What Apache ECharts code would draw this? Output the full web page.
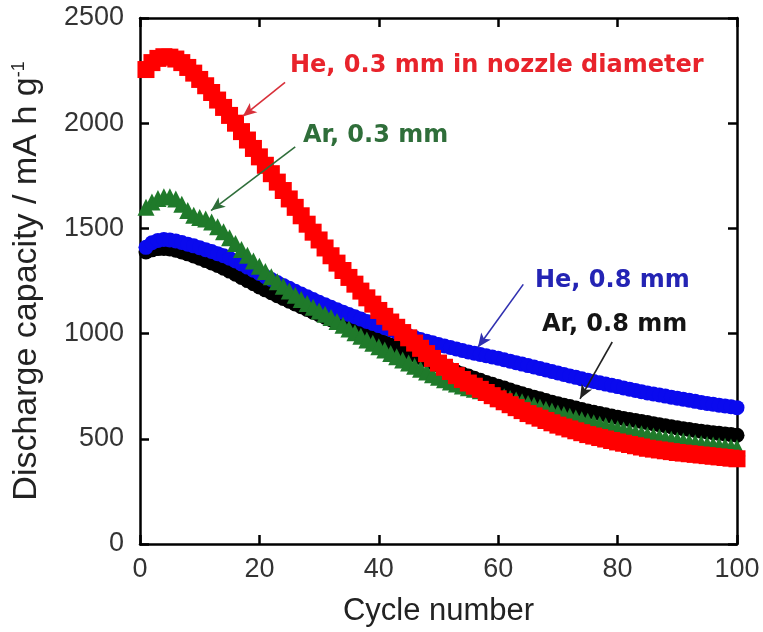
<!DOCTYPE html>
<html>
<head>
<meta charset="utf-8">
<title>Discharge capacity vs cycle number</title>
<script src="https://cdn.jsdelivr.net/npm/echarts@6/dist/echarts.min.js"></script>
</head>
<body style="margin:0;padding:0;background:#fff;">
<div id="main" style="width:763px;height:632px;"></div>
<script>
// discharge capacity (mA h g-1) for cycles 1..100
var heSmall = [2255,2288,2308,2316,2314,2305,2288,2265,2238,2208,
  2178,2146,2110,2075,2037,2000,1960,1920,1880,1840,
  1800,1760,1720,1680,1640,1600,1560,1520,1482,1445,
  1407,1370,1335,1300,1267,1235,1202,1170,1140,1110,
  1082,1055,1030,1005,980,955,930,905,882,860,
  840,820,800,782,765,750,735,720,705,690,
  676,662,648,634,620,609,598,587,576,565,
  556,547,538,529,520,513,506,499,492,485,
  479,473,467,461,455,451,447,443,439,435,
  432,429,426,423,420,417,414,411,408,405];
var arSmall = [1600,1625,1642,1650,1650,1640,1615,1585,1562,1552,
  1545,1530,1508,1484,1455,1428,1400,1372,1345,1320,
  1295,1270,1247,1225,1203,1182,1162,1143,1125,1108,
  1092,1076,1058,1040,1022,1004,987,970,954,938,
  922,906,890,875,860,845,831,817,804,792,
  781,770,760,751,743,735,728,721,714,707,
  700,692,684,676,668,659,650,641,632,623,
  615,607,599,591,583,576,569,562,555,548,
  542,536,530,524,518,513,508,503,498,493,
  489,485,481,477,473,470,467,464,461,458];
var heLarge = [1410,1432,1443,1447,1445,1440,1433,1425,1417,1408,
  1399,1390,1380,1370,1358,1345,1331,1316,1301,1286,
  1271,1257,1243,1229,1215,1201,1188,1175,1162,1149,
  1137,1125,1113,1102,1091,1080,1069,1058,1048,1038,
  1028,1018,1008,999,990,981,972,964,956,948,
  941,934,927,920,913,907,901,895,889,883,
  876,869,862,855,848,841,834,827,820,813,
  806,799,792,785,778,772,766,760,754,748,
  742,736,730,724,718,713,708,703,698,693,
  688,683,678,673,668,664,660,656,652,648];
var arLarge = [1388,1398,1404,1405,1402,1396,1388,1379,1369,1358,
  1347,1336,1324,1311,1297,1282,1267,1252,1237,1222,
  1208,1194,1180,1167,1154,1141,1128,1115,1102,1090,
  1078,1066,1054,1042,1030,1018,1006,994,982,970,
  958,946,934,922,910,898,886,874,862,851,
  840,829,818,808,798,788,778,768,759,750,
  741,732,723,714,706,698,690,682,674,667,
  660,653,646,639,632,626,620,614,608,602,
  597,592,587,582,577,572,567,562,557,552,
  548,544,540,536,532,529,526,523,520,517];

var seriesNames = ['Ar, 0.8 mm', 'He, 0.8 mm', 'Ar, 0.3 mm', 'He, 0.3 mm in nozzle diameter'];
var xTicks = [0, 100, 20];    // min, max, interval
var yTicks = [0, 2500, 500];

// arrow start/end in data coords [cycle, capacity]
var arrowArLarge = [[79.1, 960], [73.7, 690]];
var arrowHeLarge = [[64.2, 1234], [56.6, 935]];
var arrowArSmall = [[26.0, 1888], [11.9, 1585]];
var arrowHeSmall = [[24.3, 2194], [17.2, 2032]];

function pairs(arr) {
  return arr.map(function (v, i) { return [i + 1, v]; });
}

function arrow(pts, color) {
  return {
    silent: true,
    symbol: ['none', 'arrow'],
    symbolSize: [9, 14],
    label: { show: false },
    lineStyle: { color: color, width: 1.6, type: 'solid' },
    data: [[{ coord: pts[0] }, { coord: pts[1] }]]
  };
}

var myChart = echarts.init(document.getElementById('main'));

var axisLine = { show: true, onZero: false, lineStyle: { color: '#000', width: 2.5 } };
var axisTick = { show: true, inside: true, length: 9, lineStyle: { color: '#000', width: 2.5 } };
var font = 'Liberation Sans, Arial, sans-serif';
var plain = function (v) { return String(v); };

var option = {
  animation: false,
  backgroundColor: '#fff',
  grid: { left: 140, right: 26, top: 18, bottom: 83 },
  xAxis: [{
    type: 'value', min: xTicks[0], max: xTicks[1], interval: xTicks[2],
    axisLine: axisLine, axisTick: axisTick, splitLine: { show: false },
    axisLabel: { color: '#333', fontSize: 27, fontFamily: font, margin: 12, formatter: plain },
    name: 'Cycle number', nameLocation: 'middle', nameGap: 52,
    nameTextStyle: { color: '#222', fontSize: 31, fontFamily: font }
  }, {
    type: 'value', position: 'top', min: xTicks[0], max: xTicks[1], interval: xTicks[2],
    axisLine: axisLine, axisTick: axisTick, splitLine: { show: false },
    axisLabel: { show: false }
  }],
  yAxis: [{
    type: 'value', min: yTicks[0], max: yTicks[1], interval: yTicks[2],
    axisLine: axisLine, axisTick: axisTick, splitLine: { show: false },
    axisLabel: { color: '#333', fontSize: 27, fontFamily: font, margin: 16, formatter: plain },
    name: 'Discharge capacity / mA h g{sup|-1}', nameLocation: 'middle', nameGap: 96, nameRotate: 90,
    nameTextStyle: {
      color: '#222', fontSize: 34, fontFamily: font,
      rich: { sup: { fontSize: 18, fontFamily: font, color: '#222', verticalAlign: 'top', padding: [0, 0, 14, 0] } }
    }
  }, {
    type: 'value', position: 'right', min: yTicks[0], max: yTicks[1], interval: yTicks[2],
    axisLine: axisLine, axisTick: axisTick, splitLine: { show: false },
    axisLabel: { show: false }
  }],
  graphic: [
    { type: 'text', left: 290, top: 54, style: { text: seriesNames[3], fill: '#e8232b', font: 'bold 24px DejaVu Sans' } },
    { type: 'text', left: 303, top: 124, style: { text: seriesNames[2], fill: '#2f6e3a', font: 'bold 24px DejaVu Sans' } },
    { type: 'text', left: 535, top: 269, style: { text: seriesNames[1], fill: '#2424b4', font: 'bold 24px DejaVu Sans' } },
    { type: 'text', left: 542, top: 313, style: { text: seriesNames[0], fill: '#141414', font: 'bold 24px DejaVu Sans' } }
  ],
  series: [{
    name: seriesNames[0], type: 'line', data: pairs(arLarge),
    lineStyle: { width: 0 }, symbol: 'circle', symbolSize: 15,
    itemStyle: { color: '#000' }, markLine: arrow(arrowArLarge, '#222')
  }, {
    name: seriesNames[1], type: 'line', data: pairs(heLarge),
    lineStyle: { width: 0 }, symbol: 'circle', symbolSize: 15,
    itemStyle: { color: '#0a0aee' }, markLine: arrow(arrowHeLarge, '#3030b0')
  }, {
    name: seriesNames[2], type: 'line', data: pairs(arSmall),
    lineStyle: { width: 0 }, symbol: 'triangle', symbolSize: 17,
    itemStyle: { color: '#1f7a2a' }, markLine: arrow(arrowArSmall, '#2f6e3a')
  }, {
    name: seriesNames[3], type: 'line', data: pairs(heSmall),
    lineStyle: { width: 0 }, symbol: 'rect', symbolSize: 17,
    itemStyle: { color: '#ff0000' }, markLine: arrow(arrowHeSmall, '#d8303a')
  }]
};

myChart.setOption(option);
</script>
</body>
</html>
